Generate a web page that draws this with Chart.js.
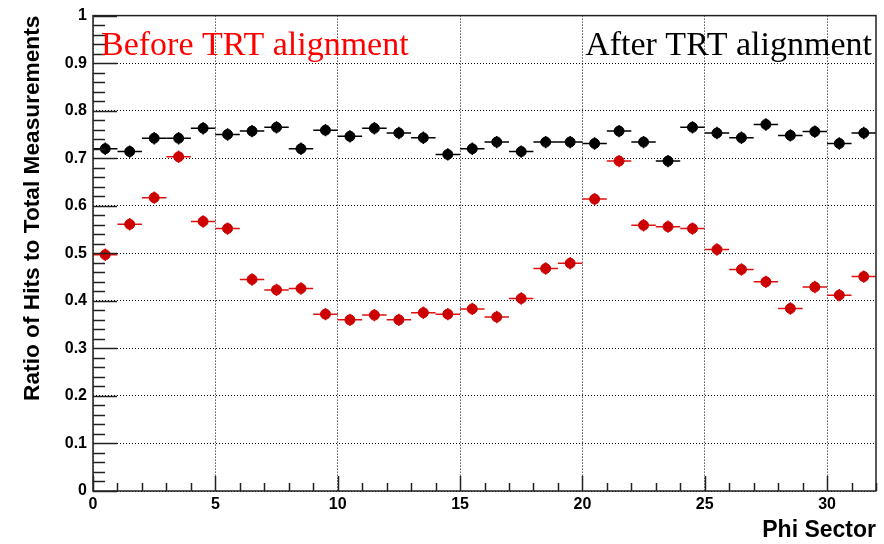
<!DOCTYPE html>
<html>
<head>
<meta charset="utf-8">
<script src="https://cdn.jsdelivr.net/npm/chart.js@4.4.0/dist/chart.umd.min.js"></script>
<style>
  html, body { margin: 0; padding: 0; background: #fff; }
  #wrap { width: 884px; height: 544px; }
</style>
</head>
<body>
<div id="wrap"><canvas id="ratioChart"></canvas></div>
<script>
// bin centres of the 32 phi sectors
const phiSector = [0.5, 1.5, 2.5, 3.5, 4.5, 5.5, 6.5, 7.5, 8.5, 9.5, 10.5, 11.5, 12.5, 13.5, 14.5, 15.5,
                   16.5, 17.5, 18.5, 19.5, 20.5, 21.5, 22.5, 23.5, 24.5, 25.5, 26.5, 27.5, 28.5, 29.5, 30.5, 31.5];

const ratioBefore = [0.497, 0.561, 0.617, 0.703, 0.567, 0.552, 0.445, 0.423, 0.426, 0.372, 0.360, 0.370,
                     0.360, 0.375, 0.372, 0.383, 0.366, 0.405, 0.468, 0.479, 0.614, 0.694, 0.559, 0.556,
                     0.552, 0.508, 0.466, 0.440, 0.384, 0.429, 0.412, 0.451];

const ratioAfter = [0.720, 0.714, 0.742, 0.742, 0.763, 0.750, 0.757, 0.765, 0.720, 0.759, 0.746, 0.763,
                    0.753, 0.743, 0.708, 0.720, 0.734, 0.714, 0.734, 0.734, 0.731, 0.757, 0.734, 0.694,
                    0.765, 0.753, 0.743, 0.771, 0.748, 0.756, 0.731, 0.753];

const labelBefore = 'Before TRT alignment';
const labelAfter = 'After TRT alignment';

const binHalfWidth = 0.5;
const statError = 0.013;

function toPoints(values) {
    return phiSector.map((x, i) => ({ x: x, y: values[i] }));
}

// horizontal bin-width bars and small vertical error bars
const errorBars = {
    id: 'errorBars',
    beforeDatasetsDraw(chart) {
        const { ctx, scales: { x, y } } = chart;
        chart.data.datasets.forEach(ds => {
            ctx.save();
            ctx.strokeStyle = ds.barColor;
            ctx.lineWidth = 1.5;
            ds.data.forEach(p => {
                const px = x.getPixelForValue(p.x);
                const py = y.getPixelForValue(p.y);
                ctx.beginPath();
                ctx.moveTo(x.getPixelForValue(p.x - binHalfWidth), py);
                ctx.lineTo(x.getPixelForValue(p.x + binHalfWidth), py);
                ctx.moveTo(px, y.getPixelForValue(p.y - statError));
                ctx.lineTo(px, y.getPixelForValue(p.y + statError));
                ctx.stroke();
            });
            ctx.restore();
        });
    }
};

// frame, inward tick marks and the two labels inside the pad
const rootFrame = {
    id: 'rootFrame',
    afterDraw(chart) {
        const { ctx, chartArea: a, scales: { x, y } } = chart;
        ctx.save();
        ctx.strokeStyle = '#222';
        ctx.lineWidth = 1.5;

        ctx.beginPath();
        for (let i = 0; i <= 50; i++) {
            const v = i * 0.02;
            const py = Math.round(y.getPixelForValue(v)) + 0.5;
            const len = (i % 5 === 0) ? 24 : 12;
            ctx.moveTo(a.left, py);
            ctx.lineTo(a.left + len, py);
        }
        for (let i = 0; i <= 32; i++) {
            const px = Math.round(x.getPixelForValue(i)) + 0.5;
            const len = (i % 5 === 0) ? 15 : 8;
            ctx.moveTo(px, a.bottom);
            ctx.lineTo(px, a.bottom - len);
        }
        ctx.stroke();

        ctx.strokeRect(a.left, a.top, a.right - a.left, a.bottom - a.top);

        ctx.font = '34px "Liberation Serif", "Times New Roman", serif';
        ctx.textBaseline = 'alphabetic';
        ctx.fillStyle = '#ff0000';
        ctx.textAlign = 'left';
        ctx.fillText(labelBefore, a.left + 8, a.top + 39);
        ctx.fillStyle = '#000';
        ctx.textAlign = 'right';
        ctx.fillText(labelAfter, a.right - 4, a.top + 39);
        ctx.restore();
    }
};

const tickFont = { family: '"Liberation Sans", Arial, sans-serif', size: 16, weight: 'bold' };

new Chart(document.getElementById('ratioChart'), {
    type: 'scatter',
    data: {
        datasets: [
            {
                label: labelAfter,
                data: toPoints(ratioAfter),
                backgroundColor: '#000',
                borderColor: '#000',
                barColor: '#000',
                pointRadius: 5,
                borderWidth: 1,
                pointHoverRadius: 5
            },
            {
                label: labelBefore,
                data: toPoints(ratioBefore),
                backgroundColor: '#cc0000',
                borderColor: '#cc0000',
                barColor: '#dd1111',
                pointRadius: 5,
                borderWidth: 1,
                pointHoverRadius: 5
            }
        ]
    },
    options: {
        responsive: true,
        maintainAspectRatio: false,
        animation: false,
        events: [],
        layout: { padding: { left: 0, right: 8, top: 13, bottom: 0 } },
        plugins: {
            legend: { display: false },
            tooltip: { enabled: false }
        },
        scales: {
            x: {
                type: 'linear',
                min: 0,
                max: 32,
                afterFit: s => { s.height = 53; },
                afterBuildTicks: s => { s.ticks = s.ticks.filter(t => t.value % 5 === 0); },
                ticks: { stepSize: 5, color: '#000', font: tickFont, padding: 4, maxRotation: 0 },
                grid: { color: '#000', lineWidth: 1, drawTicks: false },
                border: { display: false, dash: [1, 2] },
                title: {
                    display: true,
                    text: 'Phi Sector',
                    align: 'end',
                    color: '#000',
                    font: { family: '"Liberation Sans", Arial, sans-serif', size: 23, weight: 'bold' },
                    padding: { top: -3, bottom: 0 }
                }
            },
            y: {
                min: 0,
                max: 1,
                afterFit: s => { s.width = 93; },
                ticks: {
                    stepSize: 0.1,
                    color: '#000',
                    font: tickFont,
                    padding: 6,
                    callback: v => String(+v.toFixed(1))
                },
                grid: { color: '#000', lineWidth: 1, drawTicks: false },
                border: { display: false, dash: [1, 2] },
                title: {
                    display: true,
                    text: 'Ratio of Hits to Total Measurements',
                    align: 'end',
                    color: '#000',
                    font: { family: '"Liberation Sans", Arial, sans-serif', size: 22.7, weight: 'bold' },
                    padding: { top: 19, bottom: 0 }
                }
            }
        }
    },
    plugins: [errorBars, rootFrame]
});
</script>
</body>
</html>
